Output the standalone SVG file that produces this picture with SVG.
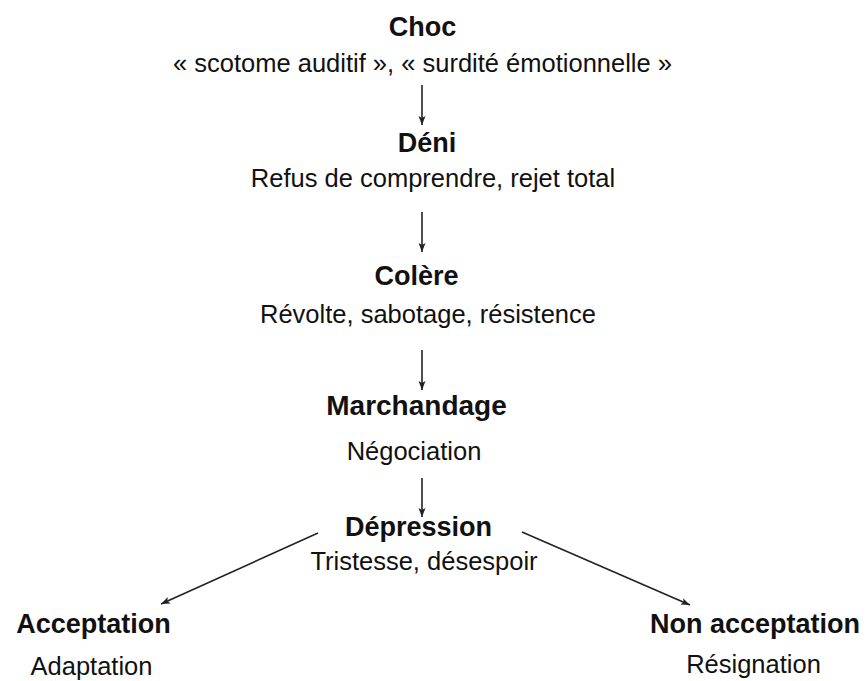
<svg xmlns="http://www.w3.org/2000/svg" width="868" height="681" viewBox="0 0 868 681">
<style>
  text { font-family: "Liberation Sans", Arial, sans-serif; fill: #111; text-anchor: middle; }
  .t { font-weight: bold; font-size: 27px; }
  .s { font-size: 25.5px; }
  .c line { stroke: #222; stroke-width: 1.6; marker-end: url(#ah); }
</style>
<defs>
  <marker id="ah" markerUnits="userSpaceOnUse" markerWidth="10" markerHeight="8" refX="9" refY="3.5" orient="auto">
    <path d="M0,0 L9,3.5 L0,7 L2,3.5 z" fill="#222"/>
  </marker>
</defs>
<rect width="868" height="681" fill="#fff"/>
<g id="choc"><text class="t" x="422.5" y="36">Choc</text><text class="s" x="422.5" y="72">« scotome auditif », « surdité émotionnelle »</text></g>
<g id="deni"><text class="t" x="427" y="152">Déni</text><text class="s" x="433" y="187">Refus de comprendre, rejet total</text></g>
<g id="colere"><text class="t" x="416.5" y="285">Colère</text><text class="s" x="428" y="323">Révolte, sabotage, résistence</text></g>
<g id="marchandage"><text class="t" x="416.5" y="415" style="font-size:28px">Marchandage</text><text class="s" x="414" y="460">Négociation</text></g>
<g id="depression"><text class="t" x="418.5" y="536">Dépression</text><text class="s" x="424" y="570">Tristesse, désespoir</text></g>
<g id="acceptation"><text class="t" x="93.5" y="633">Acceptation</text><text class="s" x="91.5" y="675">Adaptation</text></g>
<g id="non-acceptation"><text class="t" x="755" y="633">Non acceptation</text><text class="s" x="753.5" y="673">Résignation</text></g>
<g id="connectors" class="c">
  <line x1="422" y1="85" x2="422" y2="125"/>
  <line x1="422" y1="212" x2="422" y2="252"/>
  <line x1="422" y1="350" x2="422" y2="390"/>
  <line x1="422" y1="478" x2="422" y2="517"/>
  <line x1="318" y1="533" x2="161" y2="604"/>
  <line x1="522" y1="532" x2="690" y2="605"/>
</g>
</svg>
